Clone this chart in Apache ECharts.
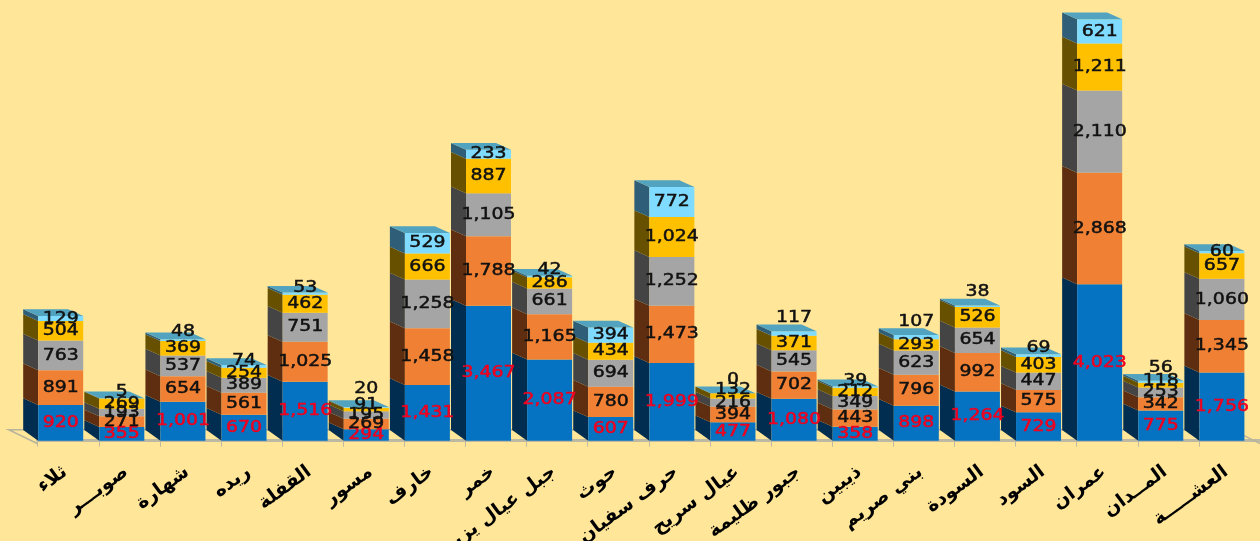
<!DOCTYPE html>
<html><head><meta charset="utf-8">
<style>html,body{margin:0;padding:0;background:#FFE699}#c{width:1260px;height:541px}</style>
<script src="https://cdn.jsdelivr.net/npm/echarts@6/dist/echarts.min.js"></script>
</head><body><div id="c"></div>
<script>
const categories = ['ثلاء','صوبـــر','شهارة','ريده','القفلة','مسور','خارف','خمر','جبل عيال يزيد','حوث','حرف سفيان','عيال سريح','جبور ظليمة','ذيبين','بني صريم','السودة','السود','عمران','المــدان','العشـــــة'];
const seriesA = [920,355,1001,670,1516,294,1431,3467,2087,607,1999,477,1080,358,898,1264,729,4023,775,1756];
const seriesB = [891,271,654,561,1025,269,1458,1788,1165,780,1473,394,702,443,796,992,575,2868,342,1345];
const seriesC = [763,193,537,389,751,195,1258,1105,661,694,1252,216,545,349,623,654,447,2110,253,1060];
const seriesD = [504,269,369,254,462,91,666,887,286,434,1024,132,371,212,293,526,403,1211,118,657];
const seriesE = [129,5,48,74,53,20,529,233,42,394,772,0,117,39,107,38,69,621,56,60];

const stacks = [seriesA, seriesB, seriesC, seriesD, seriesE];
const frontColors = ['#0573C1','#F08033','#A5A5A5','#FFC000','#7FDBFF'];
const sideColors  = ['#002D50','#5F2E10','#444444','#675000','#2F5F78'];
const topColor = '#51A3C0';
const labelColors = ['#F0001E','#111','#111','#111','#111'];
// label nudges (px, upward) for crowded small segments: [stack, category, dy]
const nudges = [[4,1,-6.6],[4,2,-8],[4,3,-5.7],[4,4,-6],[4,5,-18],[3,5,-4.5],[4,8,-6.5],[4,11,-13],[3,11,-6],[4,12,-15.5],[4,13,-6],[4,14,-15.4],[4,15,-14.6],[4,16,-7.3],[4,18,-13.4],[3,18,-4]];
const nudge = (s,c)=>{const n=nudges.find(a=>a[0]===s&&a[1]===c);return n?n[2]:0;};

const fmt = v => v.toLocaleString('en-US');
const BAR_W = 45, DX = 15, DY = 6.7, DY_BASE = 10.7;

function barSeries(si){
  const data = categories.map((_,c)=>{
    let b=0; for(let k=0;k<si;k++) b+=stacks[k][c];
    return [c,b,b+stacks[si][c],stacks[si][c]];
  });
  return {
    type:'custom', data, clip:false, silent:true,
    encode:{x:0,y:[1,2]},
    renderItem(params,api){
      const c=api.value(0), lo=api.coord([c,api.value(1)]), hi=api.coord([c,api.value(2)]);
      const band=api.size([1,0])[0];
      const x0=lo[0]-band/2+0.5, x1=x0+BAR_W, y0=lo[1], y1=hi[1];
      const back0 = y0-(si===0?DY_BASE:DY), back1 = y1-DY;
      const kids=[];
      kids.push({type:'polygon',shape:{points:[[x0-DX,back0],[x0,y0],[x0,y1],[x0-DX,back1]]},
        style:{fill:sideColors[si]}});
      kids.push({type:'rect',shape:{x:x0,y:y1,width:BAR_W,height:y0-y1},
        style:{fill:frontColors[si]}});
      if(si===4){
        kids.push({type:'polygon',shape:{points:[[x0-DX,back1],[x1-DX,back1],[x1,y1],[x0,y1]]},
          style:{fill:topColor}});
      }
      kids.push({type:'text',z2:100,x:(x0+x1)/2,y:(y0+y1)/2+nudge(si,c),scaleX:1.18,
        style:{text:fmt(api.value(3)),x:0,y:0,
        textAlign:'center',textVerticalAlign:'middle',fill:labelColors[si],
        stroke:labelColors[si],lineWidth:0.5,
        font:'16px "DejaVu Sans"'}});
      return {type:'group',children:kids};
    }
  };
}
const floor = {
  type:'custom', data:[[0,0]], clip:false, silent:true, z:1,
  encode:{x:0,y:1},
  renderItem(params,api){
    const p=api.coord([0,0]), q=api.coord([categories.length-1,0]), band=api.size([1,0])[0];
    const l=p[0]-band/2, r=q[0]+band/2, y=p[1]+3;
    return {type:'polyline',shape:{points:[[r,y],[r-28,y-14],[l-29,y-14],[l,y]]},
      style:{fill:null,stroke:'#B8B49C',lineWidth:1.5}};
  }
};
const chart = echarts.init(document.getElementById('c'));
chart.setOption({
  backgroundColor:'#FFE699', animation:false,
  grid:{left:37.7,top:12.8,width:1222.3,height:427.9,outerBoundsMode:'none'},
  xAxis:{type:'category',data:categories,offset:3,
    axisLine:{show:true,lineStyle:{color:'#BDB9A3',width:3}},
    axisTick:{show:true,length:6,alignWithLabel:false,lineStyle:{color:'#BDB9A3',width:1}},
    axisLabel:{interval:0,rotate:36,margin:24,color:'#000',padding:[0,4,0,0],
      fontFamily:'DejaVu Sans',fontWeight:'bold',fontSize:19}},
  yAxis:{type:'value',min:0,max:11000,show:false},
  series:[floor].concat(stacks.map((_,i)=>barSeries(i)))
});
</script></body></html>
